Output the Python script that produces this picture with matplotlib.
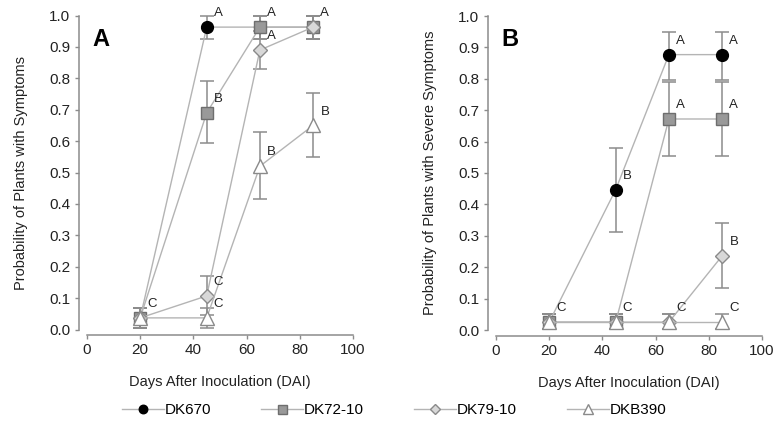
import matplotlib
matplotlib.use("Agg")
import matplotlib.pyplot as plt
import numpy as np

plt.rcParams['font.family'] = ['Liberation Sans', 'DejaVu Sans']

# ---------------------------
# DATA
# ---------------------------
dai = [20, 45, 65, 85]
cultivars = ["DK670", "DK72-10", "DK79-10", "DKB390"]

# panel A: probability of plants with symptoms
a_mean = {
    "DK670":   [0.037, 0.963, 0.963, 0.963],
    "DK72-10": [0.037, 0.690, 0.963, 0.963],
    "DK79-10": [0.037, 0.107, 0.890, 0.963],
    "DKB390":  [0.037, 0.037, 0.520, 0.650],
}
a_low = {
    "DK670":   [0.005, 0.926, 0.926, 0.926],
    "DK72-10": [0.005, 0.595, 0.926, 0.926],
    "DK79-10": [0.005, 0.045, 0.830, 0.926],
    "DKB390":  [0.005, 0.005, 0.415, 0.548],
}
a_high = {
    "DK670":   [0.070, 1.000, 1.000, 1.000],
    "DK72-10": [0.070, 0.790, 1.000, 1.000],
    "DK79-10": [0.070, 0.170, 0.950, 1.000],
    "DKB390":  [0.070, 0.070, 0.630, 0.752],
}
a_letters = {
    "DK670":   ["", "A", "", ""],
    "DK72-10": ["", "B", "A", "A"],
    "DK79-10": ["", "C", "A", ""],
    "DKB390":  ["C", "C", "B", "B"],
}

# panel B: probability of plants with severe symptoms
b_mean = {
    "DK670":   [0.025, 0.447, 0.877, 0.877],
    "DK72-10": [0.025, 0.025, 0.672, 0.672],
    "DK79-10": [0.025, 0.025, 0.025, 0.236],
    "DKB390":  [0.025, 0.025, 0.025, 0.025],
}
b_low = {
    "DK670":   [0.003, 0.312, 0.797, 0.797],
    "DK72-10": [0.003, 0.003, 0.555, 0.555],
    "DK79-10": [0.003, 0.003, 0.003, 0.133],
    "DKB390":  [0.003, 0.003, 0.003, 0.003],
}
b_high = {
    "DK670":   [0.050, 0.580, 0.950, 0.950],
    "DK72-10": [0.050, 0.050, 0.790, 0.790],
    "DK79-10": [0.050, 0.050, 0.050, 0.340],
    "DKB390":  [0.050, 0.050, 0.050, 0.050],
}
b_letters = {
    "DK670":   ["", "B", "A", "A"],
    "DK72-10": ["", "", "A", "A"],
    "DK79-10": ["", "", "", "B"],
    "DKB390":  ["C", "C", "C", "C"],
}

# ---------------------------
# STYLES
# ---------------------------
styles = {
    "DK670":   dict(marker="o", mfc="black", mec="black", ms=8.5),
    "DK72-10": dict(marker="s", mfc="#999999", mec="#6e6e6e", ms=9),
    "DK79-10": dict(marker="D", mfc="#d8d8d8", mec="#8a8a8a", ms=7),
    "DKB390":  dict(marker="^", mfc="white", mec="#8a8a8a", ms=10),
}
line_col = "#b4b4b4"
err_col = "#8c8c8c"
spine_col = "#8c8c8c"


def draw_panel(ax, mean, low, high, letters, ylabel, tag):
    for c in cultivars:
        m = np.array(mean[c])
        lo = m - np.array(low[c])
        hi = np.array(high[c]) - m
        ax.errorbar(dai, m, yerr=[lo, hi], fmt="none", ecolor=err_col,
                    elinewidth=1.1, capsize=5, capthick=1.1, clip_on=False, zorder=2)
    for i, c in enumerate(cultivars):
        ax.plot(dai, mean[c], color=line_col, lw=1.0, mew=1.0,
                clip_on=False, zorder=3 + i, label=c, **styles[c])
        for x, y, t in zip(dai, mean[c], letters[c]):
            if t:
                ax.annotate(t, (x, y), xytext=(8.5, 10), textcoords="offset points",
                            ha="center", va="center", fontsize=9.5, color="#222222",
                            zorder=10)
    ax.set_xlim(0, 100)
    ax.set_ylim(0, 1.0)
    ax.set_xticks(np.arange(0, 101, 20))
    ax.set_yticks(np.arange(0, 1.01, 0.1))
    ax.set_yticklabels([f"{v:.1f}" for v in np.arange(0, 1.01, 0.1)])
    for s in ["top", "right"]:
        ax.spines[s].set_visible(False)
    ax.spines["left"].set_position(("outward", 6))
    ax.spines["bottom"].set_position(("outward", 4))
    for s in ["left", "bottom"]:
        ax.spines[s].set_color(spine_col)
        ax.spines[s].set_linewidth(1.1)
    ax.tick_params(direction="out", length=3, width=1.0, color=spine_col,
                   labelsize=11, labelcolor="#222222", pad=3)
    ax.set_xlabel("Days After Inoculation (DAI)", fontsize=10.5, labelpad=13, color="#222222")
    ax.set_ylabel(ylabel, fontsize=10.5, labelpad=15, color="#222222")
    ax.text(0.02, 0.925, tag, transform=ax.transAxes, fontsize=17,
            fontweight="bold", ha="left", va="center")


fig = plt.figure(figsize=(7.78, 4.30), dpi=100)
W, H = 778, 430
axA = fig.add_axes([87 / W, (H - 329.5) / H, 266 / W, 314 / H])
axB = fig.add_axes([496 / W, (H - 330) / H, 266 / W, 314 / H])

draw_panel(axA, a_mean, a_low, a_high, a_letters,
           "Probability of Plants with Symptoms", "A")
draw_panel(axB, b_mean, b_low, b_high, b_letters,
           "Probability of Plants with Severe Symptoms", "B")

handles, labels = axA.get_legend_handles_labels()
fig.legend(handles, labels, loc="center left", bbox_to_anchor=(122 / W, 1 - 410 / H),
           ncol=4, frameon=False, fontsize=11, markerscale=0.72,
           borderpad=0, borderaxespad=0,
           handlelength=2.75, handletextpad=0.05, columnspacing=3.27)

fig.savefig("out.png", dpi=100)
